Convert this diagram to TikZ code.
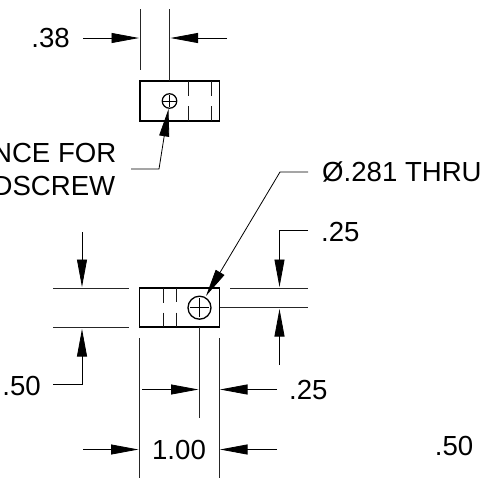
\documentclass[tikz,border=0pt]{standalone}
\usepackage{fontspec}
\setmainfont{Liberation Sans}
\usetikzlibrary{arrows.meta}
\tikzset{
  ext/.style={line width=0.9pt,black!85},
  obj/.style={line width=1.5pt,black,line join=miter},
  hid/.style={line width=1pt,black!90},
  thin/.style={line width=0.8pt,black},
  dim/.style={line width=0.8pt,black,-{Triangle[length=27.5pt,width=10pt]}},
  lab/.style={inner sep=0pt,font=\fontsize{27.6}{27.6}\selectfont},
}
\begin{document}
\begin{tikzpicture}[x=1pt,y=-1pt]
\useasboundingbox (0,0) rectangle (485,499);
% top view
\draw[obj] (140,81) rectangle (219.5,121);
\draw[hid] (188,81) -- (188,96) (188,106) -- (188,121) (211,81) -- (211,96) (211,106) -- (211,121);
\node[circle,draw,line width=1.2pt,minimum size=14.5pt,inner sep=0pt] (h1) at (169.5,101) {};
\draw[thin] (163,101) -- (176,101) (169.5,95) -- (169.5,107);
\draw[ext] (140,9) -- (140,70);
\draw[ext] (169.5,9) -- (169.5,81);
\coordinate (a1) at (83,38); \coordinate (a1t) at (139,38);
\coordinate (a2) at (227,38); \coordinate (a2t) at (170.5,38);
\draw[dim] (a1) -- (a1t);
\draw[dim] (a2) -- (a2t);
\node[lab,anchor=east] (t38) at (70,38) {.38};
% clearance leader
\coordinate (l1) at (131,169); \coordinate (l2) at (159,169); \coordinate (l3) at (168.5,109);
\draw[dim] (l1) -- (l2) -- (l3);
\node[lab,anchor=east] (tn) at (116.5,153) {NCE FOR};
\node[lab,anchor=east] (td) at (115.5,186) {DSCREW};
% lower view
\draw[obj] (139.5,288) rectangle (219.5,327);
\draw[hid] (163,288) -- (163,303) (163,312.5) -- (163,327) (176.7,288) -- (176.7,302) (176.7,312.5) -- (176.7,327);
\node[circle,draw,line width=1.3pt,minimum size=23pt,inner sep=0pt] (h2) at (199.5,307.7) {};
\draw[thin] (190,307.7) -- (209,307.7) (199.5,298) -- (199.5,317);
\draw[ext] (53,288) -- (129,288) (53,327) -- (129,327);
\draw[ext] (230,288) -- (308,288);
\draw[ext] (220,307.7) -- (308,307.7);
\draw[ext] (139.5,338) -- (139.5,478);
\draw[ext] (219,338) -- (219,478);
\draw[ext] (199.5,327) -- (199.5,418);
% left .50
\coordinate (b1) at (82,232); \coordinate (b1t) at (82,287);
\draw[dim] (b1) -- (b1t);
\coordinate (b2) at (53,384); \coordinate (b3) at (82,384); \coordinate (b3t) at (82,329);
\draw[dim] (b2) -- (b3) -- (b3t);
\node[lab,anchor=east] (t50a) at (41,385.5) {.50};
% right .25
\coordinate (c1) at (308,230.5); \coordinate (c2) at (279.5,230.5); \coordinate (c2t) at (279.5,287);
\draw[dim] (c1) -- (c2) -- (c2t);
\coordinate (c3) at (279.5,365); \coordinate (c3t) at (279.5,309);
\draw[dim] (c3) -- (c3t);
\node[lab,anchor=west] (t25a) at (321,232) {.25};
% thru leader
\coordinate (d1) at (308,172); \coordinate (d2) at (280,172); \coordinate (d3) at (206,296);
\draw[dim] (d1) -- (d2) -- (d3);
\node[lab,anchor=west] (tthru) at (322,172) {Ø.281 THRU};
% bottom dims
\coordinate (e1) at (142,389.5); \coordinate (e1t) at (198.5,389.5);
\draw[dim] (e1) -- (e1t);
\coordinate (e2) at (277,389.5); \coordinate (e2t) at (220,389.5);
\draw[dim] (e2) -- (e2t);
\node[lab,anchor=west] (t25b) at (289,390) {.25};
\coordinate (f1) at (83,449.5); \coordinate (f1t) at (138.5,449.5);
\draw[dim] (f1) -- (f1t);
\coordinate (f2) at (277,449.5); \coordinate (f2t) at (220,449.5);
\draw[dim] (f2) -- (f2t);
\node[lab] (t100) at (179,450) {1.00};
\node[lab,anchor=east] (t50b) at (473.5,445.5) {.50};
\end{tikzpicture}
\end{document}
